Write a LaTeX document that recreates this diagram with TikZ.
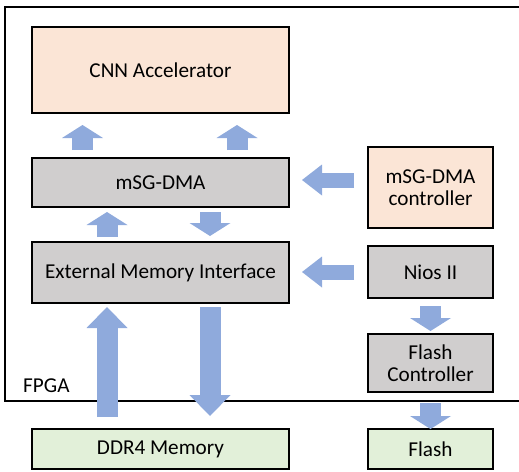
\documentclass[tikz,border=0pt]{standalone}
\usepackage{fontspec}
\setmainfont{Carlito}
\usetikzlibrary{arrows.meta}
\definecolor{peach}{HTML}{FBE5D6}
\definecolor{boxgrey}{HTML}{D0CECE}
\definecolor{memgreen}{HTML}{E2F0D9}
\definecolor{flowblue}{HTML}{8FAADC}
\tikzset{blk/.style={draw=black,line width=2pt,outer sep=0pt,inner sep=0pt,align=center}}
\tikzset{wide/.style={blk,minimum width=257pt}}
\tikzset{side/.style={blk,minimum width=125pt}}
\tikzset{fat/.style={draw=flowblue,line width=21pt,-{Triangle[width=41pt,length=#1,line width=0pt]}},fat/.default=13pt}
\tikzset{fatl/.style={draw=flowblue,line width=15pt,-{Triangle[width=31pt,length=20pt,line width=0pt]}}}

\begin{document}
\begin{tikzpicture}[x=1pt,y=-1pt]
        \useasboundingbox (0,0) rectangle (519,471);
        % FPGA frame, open on the right
        \draw[line width=2pt] (519,7) -- (5,7) -- (5,401) -- (519,401);
        \begin{scope}[font=\fontsize{21.2}{22}\selectfont]
          \node (fpga) [anchor=west,inner sep=0pt] at (23,386) {FPGA};
          \node (cnn) [wide,fill=peach,minimum height=86pt] at (160.5,70) {CNN Accelerator};
          \node (dma) [wide,fill=boxgrey,minimum height=49pt] at (160.5,182.5) {mSG-DMA};
          \node (emi) [wide,fill=boxgrey,minimum height=61pt] at (160.5,272.5) {External Memory Interface};
          \node (ddr) [wide,fill=memgreen,minimum height=40pt] at (160.5,449) {DDR4 Memory};
          \node (ctrl) [side,fill=peach,minimum height=81pt] at (430.5,187.5) {mSG-DMA\\controller};
          \node (nios) [side,fill=boxgrey,minimum height=52pt] at (430.5,272) {Nios II};
          \node (flashc) [side,fill=boxgrey,minimum height=58pt] at (430.5,363) {Flash\\Controller};
          \node (flash) [side,fill=memgreen,minimum height=40pt] at (430.5,449) {Flash};
        \end{scope}
        % data paths
        \draw[fat,shorten <=8pt,shorten >=12pt] ([xshift=-78pt]dma.north) -- ([xshift=-78pt]cnn.south);
        \draw[fat,shorten <=8pt,shorten >=12pt] ([xshift=76.5pt]dma.north) -- ([xshift=76.5pt]cnn.south);
        \draw[fat,shorten <=5pt,shorten >=5pt] ([xshift=-53.5pt]emi.north) -- ([xshift=-53.5pt]dma.south);
        \draw[fat,shorten <=5pt,shorten >=6pt] ([xshift=49.5pt]dma.south) -- ([xshift=49.5pt]emi.north);
        \draw[fat=21pt,shorten <=12pt,shorten >=4pt] ([xshift=-53.5pt]ddr.north) -- ([xshift=-53.5pt]emi.south);
        \draw[fat=21pt,shorten <=4pt,shorten >=13pt] ([xshift=49.5pt]emi.south) -- ([xshift=49.5pt]ddr.north);
        \draw[fat,shorten <=8pt,shorten >=3pt] (nios.south) -- (flashc.north);
        \draw[fat,shorten <=11pt] (flashc.south) -- (flash.north);
        % control paths
        \draw[fatl,shorten <=14pt,shorten >=13pt] ([yshift=7.5pt]ctrl.west) -- ([yshift=2.5pt]dma.east);
        \draw[fatl,shorten <=14pt,shorten >=13pt] (nios.west) -- (nios.west -| emi.east);
\end{tikzpicture}
\end{document}
